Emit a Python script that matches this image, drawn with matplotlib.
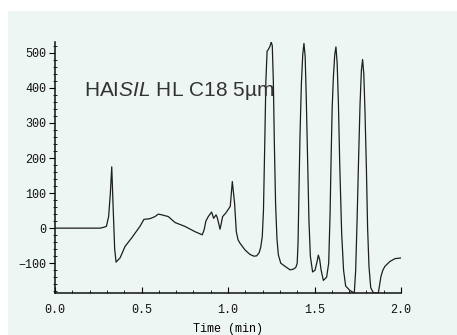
import numpy as np
import matplotlib
matplotlib.use("Agg")
import matplotlib.pyplot as plt
from matplotlib.patches import Rectangle
from matplotlib.ticker import MultipleLocator

# chromatogram trace (time in min, detector signal)
time = [0.0, 0.10, 0.20, 0.26, 0.279, 0.297, 0.31, 0.32, 0.328, 0.336, 0.345,
        0.353, 0.362, 0.376, 0.405, 0.443, 0.491, 0.514, 0.549, 0.578, 0.597,
        0.617, 0.655, 0.694, 0.751, 0.809, 0.851, 0.862, 0.872, 0.886, 0.905,
        0.917, 0.931, 0.938, 0.954, 0.969, 0.987, 1.013, 1.025, 1.038, 1.048,
        1.058, 1.068, 1.098, 1.127, 1.150, 1.166, 1.180, 1.189, 1.198, 1.205,
        1.212, 1.219, 1.226, 1.234, 1.242, 1.250, 1.256, 1.262, 1.268, 1.275,
        1.283, 1.291, 1.305, 1.330, 1.359, 1.378, 1.392, 1.400, 1.405, 1.410,
        1.416, 1.424, 1.432, 1.439, 1.446, 1.452, 1.460, 1.468, 1.476, 1.489,
        1.503, 1.515, 1.522, 1.530, 1.538, 1.551, 1.570, 1.582, 1.590, 1.596,
        1.602, 1.609, 1.617, 1.624, 1.631, 1.638, 1.646, 1.657, 1.668, 1.680,
        1.705, 1.730, 1.738, 1.746, 1.755, 1.763, 1.771, 1.778, 1.785, 1.792,
        1.800, 1.807, 1.815, 1.825, 1.841, 1.869, 1.884, 1.895, 1.907, 1.936,
        1.965, 2.0]
signal = [0, 0, 0, 0, 2, 5, 33, 100, 175, 60, -60,
          -97, -92, -85, -52, -28, 5, 25, 27, 33, 40,
          38, 33, 16, 5, -10, -19, -5, 20, 33, 46,
          28, 38, 30, -3, 33, 43, 62, 133, 71, -10,
          -33, -42, -62, -75, -80, -79, -70, -55, -25, 50,
          230, 420, 505, 510, 518, 531, 520, 420, 240, 70,
          -30, -76, -100, -109, -119, -117, -112, -100, -40, 100,
          260, 410, 495, 527, 490, 380, 200, 20, -80, -125,
          -120, -95, -77, -90, -119, -149, -140, -100, 40, 200,
          340, 430, 495, 517, 470, 360, 180, -15, -120, -165,
          -178, -185, -120, 20, 200, 350, 450, 481, 440, 330,
          170, 0, -110, -170, -185, -185, -138, -120, -109, -95,
          -87, -85]

label_text = r"HAI$\mathit{SIL}$ HL C18 5µm"

bg = "#eef6f3"
plt.rcParams["mathtext.fontset"] = "custom"
plt.rcParams["mathtext.rm"] = "Liberation Sans"
plt.rcParams["mathtext.it"] = "Liberation Sans:italic"

fig = plt.figure(figsize=(4.57, 3.35), dpi=100)
fig.patch.set_facecolor("white")
fig.add_artist(Rectangle((8 / 457, 0), 1, (335 - 11) / 335, transform=fig.transFigure,
                         facecolor=bg, edgecolor="none", zorder=0))

ax = fig.add_axes([55 / 457, 42 / 335, 346 / 457, 251 / 335])
ax.set_facecolor(bg)
ax.plot(time, signal, color="#1e1e1e", lw=0.9)

ax.set_xlim(0, 2.0)
ax.set_ylim(-185, 531)
ax.xaxis.set_major_locator(MultipleLocator(0.5))
ax.xaxis.set_minor_locator(MultipleLocator(0.1))
ax.yaxis.set_major_locator(MultipleLocator(100))
ax.yaxis.set_minor_locator(MultipleLocator(20))
ax.xaxis.set_major_formatter(matplotlib.ticker.FormatStrFormatter("%.1f"))

for s in ["top", "right"]:
    ax.spines[s].set_visible(False)
for s in ["left", "bottom"]:
    ax.spines[s].set_linewidth(1.1)
    ax.spines[s].set_color("#111111")

ax.tick_params(axis="y", which="major", direction="out", length=4, width=0.8, pad=2)
ax.tick_params(axis="y", which="minor", direction="inout", length=3, width=0.6)
ax.tick_params(axis="x", which="major", direction="in", length=4, width=0.8, pad=8)
ax.tick_params(axis="x", which="minor", direction="in", length=2.5, width=0.6)

for lab in ax.get_xticklabels() + ax.get_yticklabels():
    lab.set_fontfamily("Liberation Mono")
    lab.set_fontsize(8.5)
    lab.set_color("#111111")

ax.set_xlabel("Time (min)", family="Liberation Mono", fontsize=8.5, labelpad=5)

ax.text(0.168, 377, label_text, fontsize=15, color="#333333",
        family="Liberation Sans", va="baseline", ha="left")

fig.savefig("out.png", dpi=100, facecolor=fig.get_facecolor())
